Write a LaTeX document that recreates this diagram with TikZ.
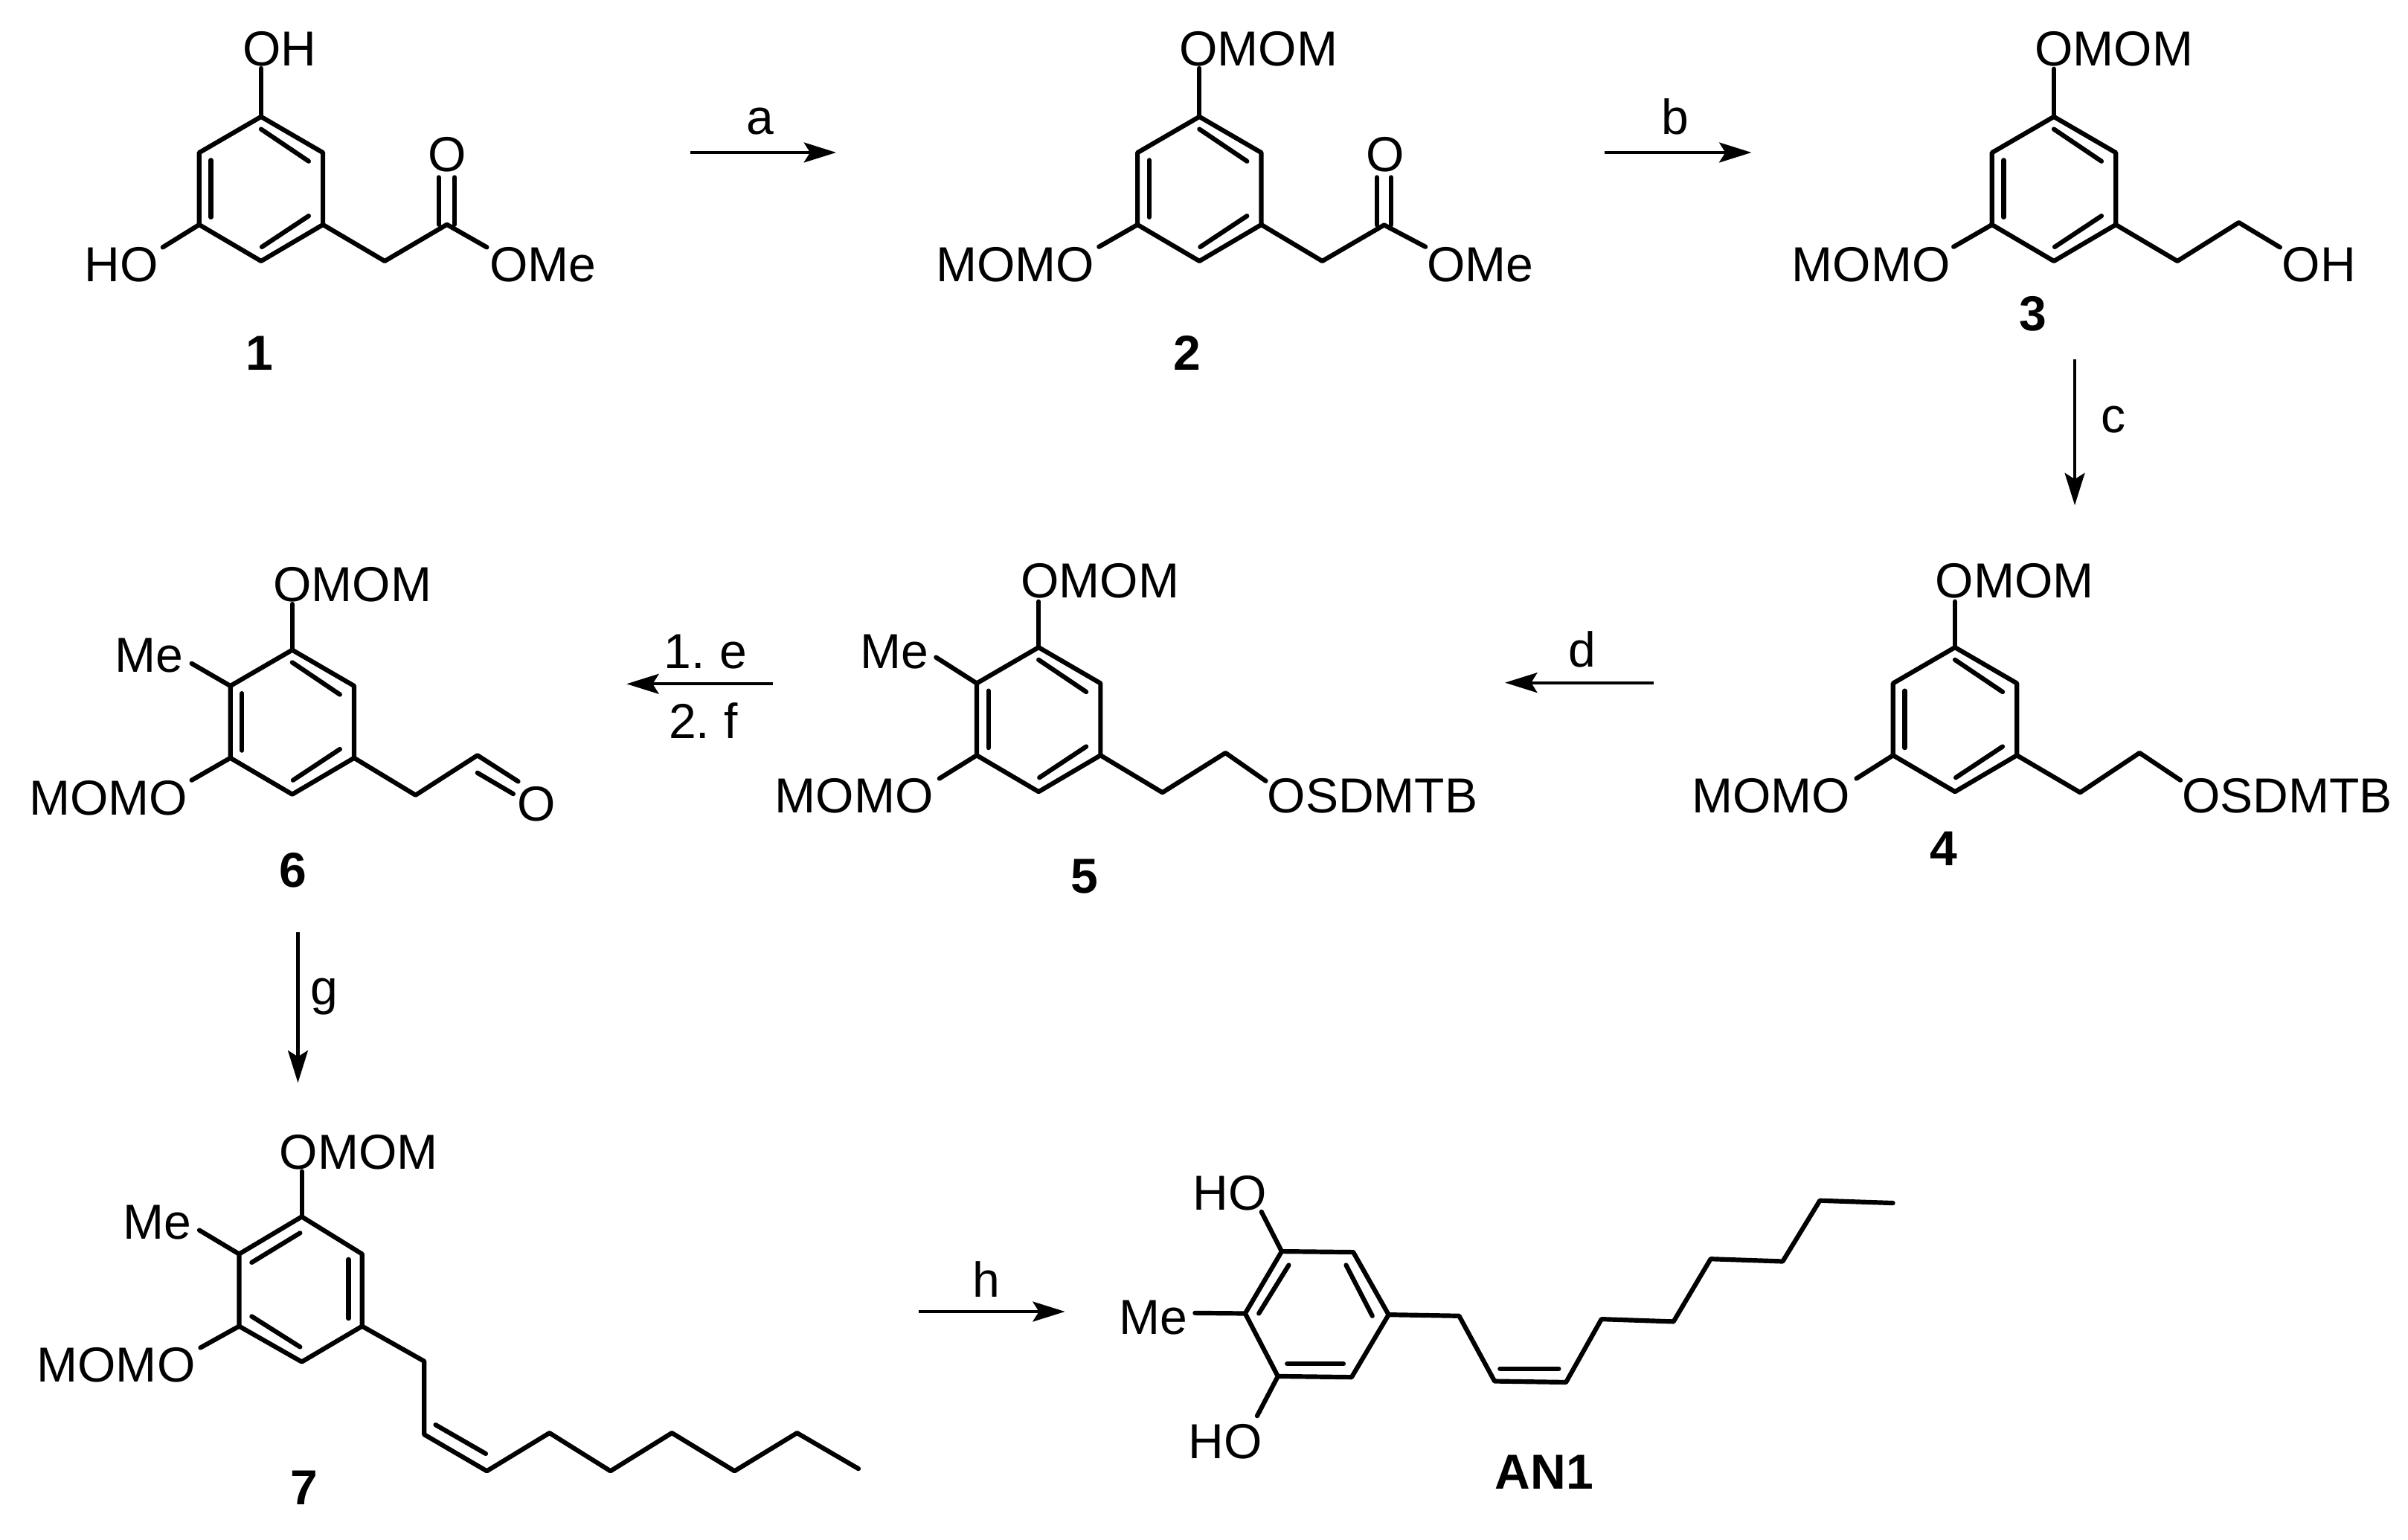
\documentclass[tikz,border=0pt]{standalone}
\usepackage{fontspec}
\setmainfont{Liberation Sans}
\usetikzlibrary{arrows.meta}
\tikzset{
  bond/.style={line width=3pt,line cap=round,line join=round,black},
  rxn/.style={line width=2pt,-{Stealth[length=21pt,width=13pt,inset=4pt]},black},
  atomtext/.style={inner sep=0pt,outer sep=0pt,anchor=base west,font=\fontsize{32}{36}\selectfont,text=black},
  cmpd/.style={inner sep=0pt,outer sep=0pt,anchor=base,font=\fontsize{32}{36}\selectfont\bfseries,text=black},
  reagent/.style={inner sep=0pt,outer sep=0pt,anchor=base,font=\fontsize{32}{36}\selectfont,text=black,execute at begin node={\spaceskip=6.5pt\relax}}
}
% atom label: name, ink left x, centre y, text
\newcommand{\atomlab}[4]{\node[atomtext] (#1) at ({#2-2},{#3+11.4}) {#4};}
\newcommand{\cmpdlab}[4]{\node[cmpd] (#1) at (#2,{#3+11.4}) {#4};}
% ring with double bonds top-UR, UL-LL, LR-bottom; apex at (#2,#3)
\newcommand{\ringA}[3]{%
  \begin{scope}[shift={(#2,#3)}]
    \coordinate (#1a) at (0,0);
    \coordinate (#1b) at (40.3,23.4);
    \coordinate (#1c) at (40.3,70.3);
    \coordinate (#1d) at (0,94);
    \coordinate (#1e) at (-40.3,70.3);
    \coordinate (#1f) at (-40.3,23.4);
    \draw[bond] (#1a)--(#1b)--(#1c)--(#1d)--(#1e)--(#1f)--cycle;
    \draw[bond] (0,8.1)--(31,29);
    \draw[bond] (-32.7,28.3)--(-32.7,65.4);
    \draw[bond] (31,64.6)--(0.5,84.8);
  \end{scope}}
\begin{document}
\begin{tikzpicture}[x=1pt,y=-1pt]
\useasboundingbox (0,0) rectangle (1568,1002.7);
\fill[white] (0,0) rectangle (1568,1002.7);

% ---------- compound 1
\ringA{p}{170}{76}
\atomlab{pOH}{160}{31.5}{OH}
\atomlab{pHO}{57}{172}{HO}
\atomlab{pOMe}{321}{172}{OMe}
\node[atomtext,anchor=center] (pO) at (291,100.5) {O};
\cmpdlab{n1}{169}{229.4}{1}
\coordinate (pb1) at (170,44.5);
\coordinate (pb2) at (106,161);
\coordinate (pc1) at (250.5,170);
\coordinate (pc2) at (291,146.2);
\coordinate (pb3) at (317,161);
\draw[bond] (pa)--(pb1);
\draw[bond] (pe)--(pb2);
\draw[bond] (pc)--(pc1)--(pc2)--(pb3);
\draw[bond] (285.6,146.2)--(285.6,115.5);
\draw[bond] (296,146.2)--(296,115.5);

% ---------- compound 2
\ringA{q}{781}{76}
\atomlab{qOMOM}{770}{31.5}{OMOM}
\atomlab{qMOMO}{611.5}{172}{MOMO}
\atomlab{qOMe}{931.2}{172}{OMe}
\node[atomtext,anchor=center] (qO) at (902,100.5) {O};
\cmpdlab{n2}{773}{229.4}{2}
\coordinate (qb1) at (781,44.5);
\coordinate (qb2) at (715.6,160.7);
\coordinate (qc1) at (861,170);
\coordinate (qc2) at (901.3,146.5);
\coordinate (qb3) at (928.2,160.7);
\draw[bond] (qa)--(qb1);
\draw[bond] (qe)--(qb2);
\draw[bond] (qc)--(qc1)--(qc2)--(qb3);
\draw[bond] (896.6,146.5)--(896.6,115.5);
\draw[bond] (905.8,146.5)--(905.8,115.5);

% ---------- compound 3
\ringA{r}{1337.4}{76}
\atomlab{rOMOM}{1327}{31.5}{OMOM}
\atomlab{rMOMO}{1168.8}{172}{MOMO}
\atomlab{rOH}{1488}{172}{OH}
\cmpdlab{n3}{1324}{203.8}{3}
\coordinate (rb1) at (1337.4,44.9);
\coordinate (rb2) at (1272.1,160.7);
\coordinate (rc1) at (1417.8,170);
\coordinate (rc2) at (1457.8,144.9);
\coordinate (rb3) at (1484.6,161);
\draw[bond] (ra)--(rb1);
\draw[bond] (re)--(rb2);
\draw[bond] (rc)--(rc1)--(rc2)--(rb3);

% ---------- compound 4
\ringA{s}{1273}{421.5}
\atomlab{sOMOM}{1262.2}{377.6}{OMOM}
\atomlab{sMOMO}{1103.6}{517.7}{MOMO}
\atomlab{sOS}{1422.8}{517.7}{OSDMTB}
\cmpdlab{n4}{1265.8}{552}{4}
\coordinate (sb1) at (1273,391.7);
\coordinate (sb2) at (1208.8,506.9);
\coordinate (sc1) at (1354.5,516);
\coordinate (sc2) at (1393.2,490.2);
\coordinate (sb3) at (1419.8,508);
\draw[bond] (sa)--(sb1);
\draw[bond] (se)--(sb2);
\draw[bond] (sc)--(sc1)--(sc2)--(sb3);

% ---------- compound 5
\ringA{t}{676.3}{421.5}
\atomlab{tOMOM}{666.7}{377.6}{OMOM}
\atomlab{tMe}{562.3}{424}{Me}
\atomlab{tMOMO}{506.6}{517.7}{MOMO}
\atomlab{tOS}{827.3}{517.7}{OSDMTB}
\cmpdlab{n5}{706.2}{570.2}{5}
\coordinate (tb1) at (676.3,391.7);
\coordinate (tb2) at (611.7,506.9);
\coordinate (tb4) at (609.5,428);
\coordinate (tc1) at (756.9,516);
\coordinate (tc2) at (798,490.2);
\coordinate (tb3) at (824.2,508.5);
\draw[bond] (ta)--(tb1);
\draw[bond] (te)--(tb2);
\draw[bond] (tf)--(tb4);
\draw[bond] (tc)--(tc1)--(tc2)--(tb3);

% ---------- compound 6
\ringA{u}{190.3}{423.2}
\atomlab{uOMOM}{180}{380.4}{OMOM}
\atomlab{uMe}{77}{426.1}{Me}
\atomlab{uMOMO}{21}{519.3}{MOMO}
\node[atomtext,anchor=center] (uO) at (349.5,523.3) {O};
\cmpdlab{n6}{190.8}{566}{6}
\coordinate (ub1) at (190.3,393.3);
\coordinate (ub2) at (124.8,508);
\coordinate (ub4) at (124.8,432);
\coordinate (uc1) at (270.6,517.7);
\coordinate (uc2) at (310.9,491.8);
\coordinate (ub3) at (337.4,508.8);
\draw[bond] (ua)--(ub1);
\draw[bond] (ue)--(ub2);
\draw[bond] (uf)--(ub4);
\draw[bond] (uc)--(uc1)--(uc2)--(ub3);
\draw[bond] (310.9,503.2)--(334.2,516.9);

% ---------- compound 7
\coordinate (va) at (196.5,792.2);
\coordinate (vb) at (235.8,816.5);
\coordinate (vc) at (235.8,863.5);
\coordinate (vd) at (196.5,886.7);
\coordinate (ve) at (155.7,863.5);
\coordinate (vf) at (155.7,816.5);
\draw[bond] (va)--(vb)--(vc)--(vd)--(ve)--(vf)--cycle;
\draw[bond] (195.4,802.8)--(163.9,822);
\draw[bond] (226.9,820)--(226.9,858.4);
\draw[bond] (163.9,857.1)--(195.4,877);
\atomlab{vOMOM}{184}{749.6}{OMOM}
\atomlab{vMe}{82}{795.5}{Me}
\atomlab{vMOMO}{26}{888.5}{MOMO}
\cmpdlab{n7}{198}{968.4}{7}
\coordinate (vb1) at (196.5,762.7);
\coordinate (vb2) at (130.5,877.5);
\coordinate (vb4) at (129.8,801);
\draw[bond] (va)--(vb1);
\draw[bond] (ve)--(vb2);
\draw[bond] (vf)--(vb4);
\coordinate (v1) at (276.2,886.3);
\coordinate (v2) at (276.2,934);
\coordinate (v3) at (317,957.8);
\coordinate (v4) at (357.8,933);
\coordinate (v5) at (397.5,957.8);
\coordinate (v6) at (437.5,933);
\coordinate (v7) at (478.3,957.8);
\coordinate (v8) at (519,933);
\coordinate (v9) at (559,956.3);
\draw[bond] (vc)--(v1)--(v2)--(v3)--(v4)--(v5)--(v6)--(v7)--(v8)--(v9);
\draw[bond] (283.6,927.7)--(316.3,946.5);

% ---------- AN1
\coordinate (wa) at (834.6,814.8);
\coordinate (wb) at (881.2,815.3);
\coordinate (wc) at (904.2,856);
\coordinate (wd) at (880.1,896.7);
\coordinate (we) at (832.1,896.1);
\coordinate (wf) at (810.8,855.2);
\draw[bond] (wa)--(wb)--(wc)--(wd)--(we)--(wf)--cycle;
\draw[bond] (839.2,823.7)--(819.7,855.2);
\draw[bond] (876.5,823.7)--(893.6,856.8);
\draw[bond] (838.1,888)--(874.8,888);
\atomlab{wHOa}{778.8}{776.5}{HO}
\atomlab{wMe}{730.8}{857.3}{Me}
\atomlab{wHOb}{776}{938.4}{HO}
\cmpdlab{nAN}{1005.5}{958.1}{AN1}
\coordinate (wb1) at (821.4,789);
\coordinate (wb2) at (818.6,921.9);
\coordinate (wb3) at (778.1,854.9);
\draw[bond] (wa)--(wb1);
\draw[bond] (we)--(wb2);
\draw[bond] (wf)--(wb3);
\coordinate (w1) at (950.1,856.8);
\coordinate (w2) at (973.2,899.3);
\coordinate (w3) at (1019.7,900);
\coordinate (w4) at (1042.8,858.9);
\coordinate (w5) at (1089.7,860.5);
\coordinate (w6) at (1113.9,819.7);
\coordinate (w7) at (1160.8,821.3);
\coordinate (w8) at (1185,781.7);
\coordinate (w9) at (1232.6,783.3);
\draw[bond] (wc)--(w1)--(w2)--(w3)--(w4)--(w5)--(w6)--(w7)--(w8)--(w9);
\draw[bond] (976.7,891.2)--(1015,891.2);

% ---------- reaction arrows
\coordinate (aS) at (449.5,99.3); \coordinate (aE) at (544.5,99.3);
\coordinate (bS) at (1045,99.3); \coordinate (bE) at (1140.5,99.3);
\coordinate (cS) at (1351,234); \coordinate (cE) at (1351,329);
\coordinate (dS) at (1077,444.5); \coordinate (dE) at (980,444.5);
\coordinate (eS) at (503.5,445.3); \coordinate (eE) at (408,445.3);
\coordinate (gS) at (194,607); \coordinate (gE) at (194,705);
\coordinate (hS) at (598,854); \coordinate (hE) at (693.5,854);
\draw[rxn] (aS)--(aE);
\draw[rxn] (bS)--(bE);
\draw[rxn] (cS)--(cE);
\draw[rxn] (dS)--(dE);
\draw[rxn] (eS)--(eE);
\draw[rxn] (gS)--(gE);
\draw[rxn] (hS)--(hE);
\node[reagent] (la) at (495,87.3) {a};
\node[reagent] (lb) at (1090.8,87.3) {b};
\node[reagent] (lc) at (1376,281.5) {c};
\node[reagent] (ld) at (1030,434.5) {d};
\node[reagent] (le) at (459.5,435) {1. e};
\node[reagent] (lf) at (458,481) {2. f};
\node[reagent] (lg) at (211,654) {g};
\node[reagent] (lh) at (642,844.5) {h};
\end{tikzpicture}
\end{document}
